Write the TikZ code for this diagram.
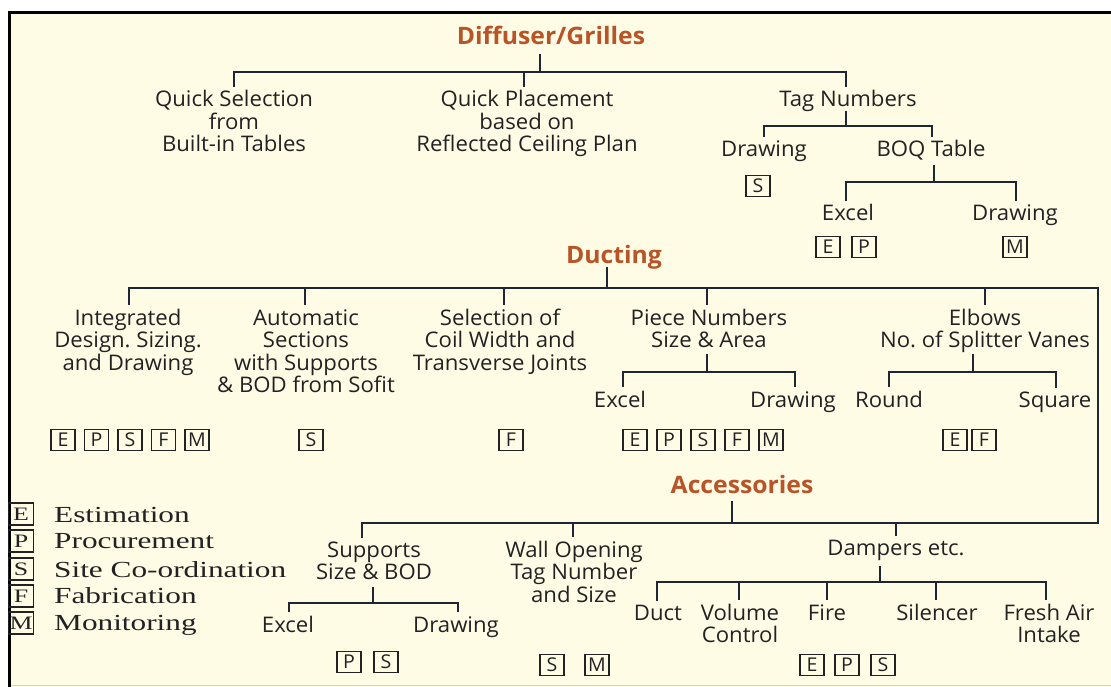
\documentclass[tikz,border=0pt]{standalone}
\usepackage{fontspec}
\setmainfont[FakeStretch=1.03]{Open Sans}
\newfontfamily\legfont[FakeStretch=1.36]{Liberation Serif}
\definecolor{cream}{RGB}{254,252,228}
\definecolor{ttlc}{RGB}{184,84,40}
\definecolor{ink}{RGB}{34,34,36}
\definecolor{wire}{RGB}{30,38,54}
\definecolor{edge}{RGB}{196,210,220}
\frenchspacing
\tikzset{
  wire/.style={draw=wire, line width=2.6pt, line cap=rect},
  drop/.style={wire, shorten >=5pt},
  ttl/.style={anchor=base, inner sep=0pt, text=ttlc, font=\fontsize{24}{26}\selectfont\bfseries},
  lbl/.style={anchor=base, align=center, inner sep=0pt, text=ink, font=\fontsize{21.5}{22.5}\selectfont},
  tagbox/.style={draw=ink, line width=1.3pt, minimum width=24pt, minimum height=21pt, inner sep=0pt, text=ink, font=\fontsize{19}{19}\selectfont},
  legbox/.style={draw=ink, line width=1.3pt, minimum width=25pt, minimum height=22pt, inner sep=0pt, text=ink, font=\legfont\fontsize{19}{19}\selectfont},
  legtxt/.style={anchor=base west, inner sep=0pt, text=ink, font=\legfont\fontsize{23}{23}\selectfont}
}
\begin{document}
\begin{tikzpicture}[x=1pt,y=-1pt]
\useasboundingbox (0,0) rectangle (1111,687);
\fill[white] (0,0) rectangle (1111,687);
\fill[cream] (9,12) rectangle (1111,687);
\draw[black, line width=3pt] (9.5,687) -- (9.5,12.5) -- (1111,12.5);
\draw[edge, line width=1.5pt] (11,685.5) -- (1111,685.5);

% ---------- Diffuser / Grilles ----------
\node[ttl] (dg) at (551,45) {Diffuser/Grilles};
\node[lbl] (qs) at (234,152) {Quick Selection\\from\\Built-in Tables};
\node[lbl] (qp) at (527,152) {Quick Placement\\based on\\Reflected Ceiling Plan};
\node[lbl] (tn) at (848,107) {Tag Numbers};
\node[lbl] (tdw) at (764,157) {Drawing};
\node[lbl] (boq) at (931,157) {BOQ Table};
\node[lbl] (bxl) at (848,221) {Excel};
\node[lbl] (bdw) at (1015,221) {Drawing};
\node[tagbox] (t1s) at (758,186) {S};
\node[tagbox] (t2e) at (828,247) {E};
\node[tagbox] (t2p) at (864,247) {P};
\node[tagbox] (t3m) at (1015,247) {M};

\coordinate (dgt) at (540,55);  \coordinate (dgj) at (540,72);
\coordinate (qsb) at (234,72);  \coordinate (qpb) at (524,72); \coordinate (tnb) at (846,72);
\draw[wire] (dgt) -- (dgj);
\draw[wire] (qsb) -- (tnb);
\draw[drop] (qsb) -- (qsb |- qs.north);
\draw[drop] (qpb) -- (qpb |- qp.north);
\draw[drop] (tnb) -- (tnb |- tn.north);

\coordinate (tnt) at (846,112); \coordinate (tnj) at (846,126);
\coordinate (tdb) at (764,126); \coordinate (bqb) at (932,126);
\draw[wire] (tnt) -- (tnj);
\draw[wire] (tdb) -- (bqb);
\draw[drop] (tdb) -- (tdb |- tdw.north);
\draw[drop] (bqb) -- (bqb |- boq.north);

\coordinate (bqt) at (934,166); \coordinate (bqj) at (934,182);
\coordinate (bxb) at (846,182); \coordinate (bdb) at (1016,182);
\draw[wire] (bqt) -- (bqj);
\draw[wire] (bxb) -- (bdb);
\draw[drop] (bxb) -- (bxb |- bxl.north);
\draw[drop] (bdb) -- (bdb |- bdw.north);

% ---------- Ducting ----------
\node[ttl] (duc) at (614,263) {Ducting};
\node[lbl] (ids) at (128,370) {Integrated\\Design. Sizing.\\and Drawing};
\node[lbl] (aut) at (306,392.5) {Automatic\\Sections\\with Supports\\\& BOD from Sofit};
\node[lbl] (sel) at (500,370) {Selection of\\Coil Width and\\Transverse Joints};
\node[lbl] (pcn) at (709,347.5) {Piece Numbers\\Size \& Area};
\node[lbl] (elb) at (985,347.5) {Elbows\\No. of Splitter Vanes};
\node[lbl] (pxl) at (620,407) {Excel};
\node[lbl] (pdw) at (793,407) {Drawing};
\node[lbl] (rnd) at (889,407) {Round};
\node[lbl] (sqr) at (1055,407) {Square};

\coordinate (dut) at (607,268); \coordinate (duj) at (607,288);
\coordinate (idb) at (129,288); \coordinate (aub) at (305,288); \coordinate (seb) at (504,288);
\coordinate (pcb) at (707,288); \coordinate (elbb) at (985,288); \coordinate (duR) at (1098,288);
\draw[wire] (dut) -- (duj);
\draw[wire] (idb) -- (duR);
\draw[drop] (idb) -- (idb |- ids.north);
\draw[drop] (aub) -- (aub |- aut.north);
\draw[drop] (seb) -- (seb |- sel.north);
\draw[drop] (pcb) -- (pcb |- pcn.north);
\draw[drop] (elbb) -- (elbb |- elb.north);

\coordinate (pct) at (707,355); \coordinate (pcj) at (707,372);
\coordinate (pxb) at (623,372); \coordinate (pdb) at (795,372);
\draw[wire] (pct) -- (pcj);
\draw[wire] (pxb) -- (pdb);
\draw[drop] (pxb) -- (pxb |- pxl.north);
\draw[drop] (pdb) -- (pdb |- pdw.north);

\coordinate (elt) at (973,355); \coordinate (elj) at (973,372);
\coordinate (rnb) at (889,372); \coordinate (sqb) at (1056,372);
\draw[wire] (elt) -- (elj);
\draw[wire] (rnb) -- (sqb);
\draw[drop] (rnb) -- (rnb |- rnd.north);
\draw[drop] (sqb) -- (sqb |- sqr.north);

\node[tagbox] (a1) at (63,440) {E};
\node[tagbox] (a2) at (96.5,440) {P};
\node[tagbox] (a3) at (130,440) {S};
\node[tagbox] (a4) at (163.5,440) {F};
\node[tagbox] (a5) at (197,440) {M};
\node[tagbox] (b1) at (311,440) {S};
\node[tagbox] (c1) at (511,440) {F};
\node[tagbox] (d1) at (635,440) {E};
\node[tagbox] (d2) at (669,440) {P};
\node[tagbox] (d3) at (703,440) {S};
\node[tagbox] (d4) at (737,440) {F};
\node[tagbox] (d5) at (771,440) {M};
\node[tagbox] (e1) at (955,440) {E};
\node[tagbox] (e2) at (984,440) {F};

% ---------- Accessories ----------
\node[ttl] (acc) at (742,493) {Accessories};
\node[lbl] (sup) at (374,579.5) {Supports\\Size \& BOD};
\node[lbl] (wop) at (574,602) {Wall Opening\\Tag Number\\and Size};
\node[lbl] (dmp) at (896,555) {Dampers etc.};
\node[lbl] (sxl) at (288,632) {Excel};
\node[lbl] (sdw) at (456,632) {Drawing};
\node[lbl] (dct) at (658,620) {Duct};
\node[lbl] (vol) at (740,642.5) {Volume\\Control};
\node[lbl] (fir) at (827,620) {Fire};
\node[lbl] (sil) at (937,620) {Silencer};
\node[lbl] (fai) at (1049,642.5) {Fresh Air\\Intake};

\coordinate (act) at (732,502); \coordinate (acj) at (732,523);
\coordinate (spb) at (362,523); \coordinate (wob) at (573,523); \coordinate (dmb) at (896,523);
\coordinate (acR) at (1098,523);
\draw[wire] (act) -- (acj);
\draw[wire] (duR) -- (acR) -- (spb);
\draw[drop] (spb) -- (spb |- sup.north);
\draw[drop] (wob) -- (wob |- wop.north);
\draw[drop] (dmb) -- (dmb |- dmp.north);

\coordinate (spt) at (373,588); \coordinate (spj) at (373,603);
\coordinate (sxb) at (289,603); \coordinate (sdb) at (458,603);
\draw[wire] (spt) -- (spj);
\draw[wire] (sxb) -- (sdb);
\draw[drop] (sxb) -- (sxb |- sxl.north);
\draw[drop] (sdb) -- (sdb |- sdw.north);

\coordinate (dmt) at (880,567); \coordinate (dmj) at (880,582);
\coordinate (dcb) at (657,582); \coordinate (vob) at (739,582); \coordinate (fib) at (827,582);
\coordinate (sib) at (936,582); \coordinate (fab) at (1046,582);
\draw[wire] (dmt) -- (dmj);
\draw[wire] (dcb) -- (fab);
\draw[drop] (dcb) -- (dcb |- dct.north);
\draw[drop] (vob) -- (vob |- vol.north);
\draw[drop] (fib) -- (fib |- fir.north);
\draw[drop] (sib) -- (sib |- sil.north);
\draw[drop] (fab) -- (fab |- fai.north);

\node[tagbox] (f1) at (349,662) {P};
\node[tagbox] (f2) at (386,662) {S};
\node[tagbox] (g1) at (552,665) {S};
\node[tagbox] (g2) at (597,665) {M};
\node[tagbox] (h1) at (812,665) {E};
\node[tagbox] (h2) at (847,665) {P};
\node[tagbox] (h3) at (883,665) {S};

% ---------- Legend ----------
\node[legbox] (le) at (21,514) {E};
\node[legbox] (lp) at (21,541) {P};
\node[legbox] (ls) at (21,569) {S};
\node[legbox] (lf) at (21,596) {F};
\node[legbox] (lm) at (21,623) {M};
\node[legtxt] (te) at (54,522) {Estimation};
\node[legtxt] (tp) at (54,548) {Procurement};
\node[legtxt] (ts) at (54,577) {Site Co-ordination};
\node[legtxt] (tf) at (54,603) {Fabrication};
\node[legtxt] (tm) at (54,630) {Monitoring};
\end{tikzpicture}
\end{document}
